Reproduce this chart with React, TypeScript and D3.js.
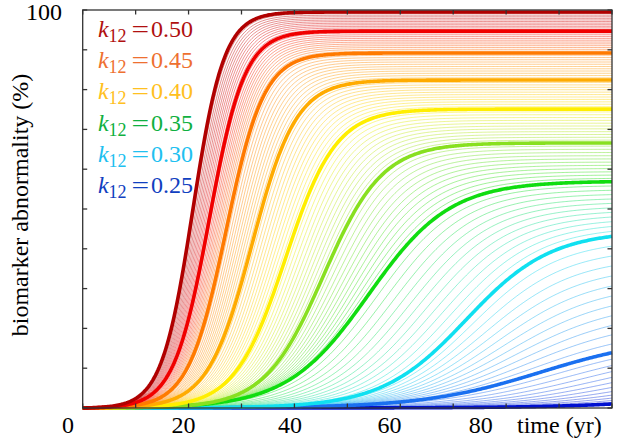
import React from "react";
import * as d3 from "d3";

// ---- data ----
// thick reference curves (k12 from 0.50 down), logistic parameters
const PLATEAU = [99.5, 94.7, 89.2, 82.4, 75.1, 66.6, 57.0, 44.5, 18.0, 6.0];
const HALF_TIME = [20.8, 23.9, 27.1, 32.0, 38.3, 45.5, 54.0, 72.5, 86.5, 120.0];
const RATE = [0.34, 0.30, 0.28, 0.24, 0.21, 0.18, 0.13, 0.125, 0.09, 0.08];
const CURVE_COLORS = ["#b00000", "#f00000", "#ff7a00", "#ffab00", "#ffee00", "#88e020", "#10dd10", "#10e0f0", "#1a70f0", "#0010d0"];
const THIN_PER_GAP = 11;

const LEGEND_VALUES = ["0.50", "0.45", "0.40", "0.35", "0.30", "0.25"];
const LEGEND_COLORS = ["#b01010", "#ee7030", "#ffc020", "#10b040", "#20c0f0", "#1040c0"];

const X_TICK_LABELS = [0, 20, 40, 60, 80];
const X_LABEL_SHIFT = [-14.7, -5, -4.4, -10.7, -25.5];
const TICK_STEP = 10;

const W = 622, H = 439;
const PL = 82.7, PR = 612, PT = 10, PB = 408;
const FONT = "'Liberation Serif', 'Times New Roman', serif";

export default function App() {
  const x = d3.scaleLinear().domain([0, 100]).range([PL, PR]);
  const y = d3.scaleLinear().domain([0, 100]).range([PB, PT]);
  const times = d3.range(0, 100.0001, 0.25);
  const makeCurve = (P: number, t0: number, r: number) => {
    const L = (t: number) => 1 / (1 + Math.exp(-r * (t - t0)));
    const L0 = L(0);
    return times.map((t) => [t, (P * (L(t) - L0)) / (1 - L0)] as [number, number]);
  };
  const line = d3.line<[number, number]>().x((d) => x(d[0])).y((d) => y(d[1]));

  const thin: { d: string; c: string }[] = [];
  for (let i = PLATEAU.length - 2; i >= 0; i--) {
    for (let j = THIN_PER_GAP; j >= 1; j--) {
      const a = j / (THIN_PER_GAP + 1);
      const P = PLATEAU[i] + (PLATEAU[i + 1] - PLATEAU[i]) * a;
      const t0 = HALF_TIME[i] + (HALF_TIME[i + 1] - HALF_TIME[i]) * a;
      const r = RATE[i] + (RATE[i + 1] - RATE[i]) * a;
      thin.push({ d: line(makeCurve(P, t0, r)) || "", c: d3.interpolateRgb(CURVE_COLORS[i], CURVE_COLORS[i + 1])(a) });
    }
  }
  const thick = PLATEAU.map((P, i) => ({ d: line(makeCurve(P, HALF_TIME[i], RATE[i])) || "", c: CURVE_COLORS[i] })).reverse();

  const ticks = d3.range(0, 100.001, TICK_STEP);
  const tl = 4.5;

  return (
    <svg width={W} height={H} style={{ position: "absolute", left: 0, top: 0, background: "#fff" }} fontFamily={FONT}>
      <rect x={0} y={0} width={W} height={H} fill="#fff" />
      <g fill="none">
        {thin.map((l, i) => (
          <path key={"t" + i} d={l.d} stroke={l.c} strokeWidth={0.8} strokeOpacity={0.55} />
        ))}
        {thick.map((l, i) => (
          <path key={"k" + i} d={l.d} stroke={l.c} strokeWidth={3.6} strokeLinejoin="round" />
        ))}
      </g>
      {/* frame and ticks */}
      <g stroke="#333" strokeWidth={1.3}>
        <rect x={PL} y={PT} width={PR - PL} height={PB - PT} fill="none" />
        {ticks.map((v) => (
          <g key={"tk" + v}>
            <line x1={x(v)} x2={x(v)} y1={PB} y2={PB - tl} />
            <line x1={x(v)} x2={x(v)} y1={PT} y2={PT + tl} />
            <line x1={PL} x2={PL + tl} y1={y(v)} y2={y(v)} />
            <line x1={PR} x2={PR - tl} y1={y(v)} y2={y(v)} />
          </g>
        ))}
      </g>
      {/* axis labels */}
      <g fontSize={24} fill="#000">
        {X_TICK_LABELS.map((v, i) => (
          <text key={"xl" + v} x={x(v) + X_LABEL_SHIFT[i]} y={433} textAnchor="middle">{v}</text>
        ))}
        <text x={517} y={433}>time (yr)</text>
        <text x={62} y={20} textAnchor="end">100</text>
        <text transform={`translate(28,205) rotate(-90)`} textAnchor="middle">biomarker abnormality (%)</text>
      </g>
      {/* legend */}
      <g fontSize={24}>
        {LEGEND_VALUES.map((v, i) => {
          const by = 37 + i * 31.2;
          return (
            <g key={"lg" + v} fill={LEGEND_COLORS[i]}>
              <text x={98} y={by} fontStyle="italic">k</text>
              <text x={108.5} y={by + 5} fontSize={18}>12</text>
              <text transform={`translate(131.5,${by}) scale(1.3,1)`}>=</text>
              <text x={151} y={by}>{v}</text>
            </g>
          );
        })}
      </g>
    </svg>
  );
}
